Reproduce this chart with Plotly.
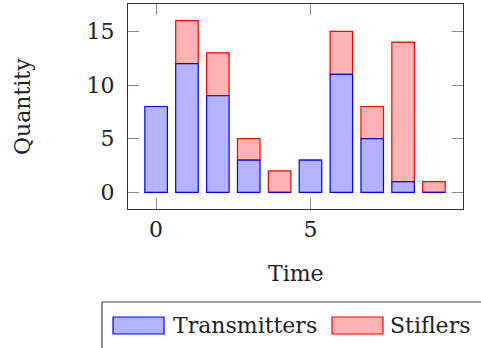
import plotly.graph_objects as go

time = [0, 1, 2, 3, 4, 5, 6, 7, 8, 9]
transmitters = [8, 12, 9, 3, 0, 3, 11, 5, 1, 0]
stiflers = [0, 4, 4, 2, 2, 0, 4, 3, 13, 1]
x_ticks = [0, 5]
y_ticks = [0, 5, 10, 15]

W, H = 481, 348
L, R, T, B = 128, 463, 4, 209


def px(x):
    return (x - L) / (R - L)


def py(y):
    return (B - y) / (B - T)


FONT = "DejaVu Serif"
fig = go.Figure()
fig.add_trace(go.Bar(
    x=time, y=stiflers, base=transmitters, width=0.73, name="Stiflers",
    marker=dict(color="#ffb3b3", line=dict(color="#ff0000", width=1.2)),
    showlegend=False,
))
fig.add_trace(go.Bar(
    x=time, y=transmitters, width=0.73, name="Transmitters",
    marker=dict(color="#b3b3ff", line=dict(color="#0000ff", width=1.2)),
    showlegend=False,
))

axis_common = dict(
    showgrid=False, zeroline=False, showline=True, linecolor="#333333",
    linewidth=1.2, mirror="ticks", ticks="inside", ticklen=11,
    tickcolor="#888888", tickwidth=1.2,
    tickfont=dict(family=FONT, size=22, color="#222222"),
)
fig.update_xaxes(range=[-0.91, 9.94], tickvals=x_ticks, ticklabelstandoff=0,
                 **axis_common)
fig.update_yaxes(range=[-1.55, 17.55], tickvals=y_ticks, ticklabelstandoff=8,
                 **axis_common)

shapes = [
    dict(type="rect", xref="paper", yref="paper", x0=px(102), x1=px(495),
         y0=py(302), y1=py(360), line=dict(color="#444444", width=1.2),
         fillcolor="rgba(0,0,0,0)"),
    dict(type="rect", xref="paper", yref="paper", x0=px(113), x1=px(164),
         y0=py(317), y1=py(334), line=dict(color="#0000ff", width=1.2),
         fillcolor="#b3b3ff"),
    dict(type="rect", xref="paper", yref="paper", x0=px(332), x1=px(383),
         y0=py(317), y1=py(334), line=dict(color="#ff0000", width=1.2),
         fillcolor="#ffb3b3"),
]
annotations = [
    dict(text="Time", x=px(296), y=py(273), xref="paper", yref="paper",
         showarrow=False, xanchor="center", yanchor="middle",
         font=dict(family=FONT, size=22, color="#222222")),
    dict(text="Quantity", x=px(22), y=py(107), xref="paper", yref="paper",
         showarrow=False, xanchor="center", yanchor="middle", textangle=-90,
         font=dict(family=FONT, size=22, color="#222222")),
    dict(text="Transmitters", x=px(171), y=py(325), xref="paper", yref="paper",
         showarrow=False, xanchor="left", yanchor="middle",
         font=dict(family=FONT, size=22, color="#222222")),
    dict(text="Stiflers", x=px(388), y=py(325), xref="paper", yref="paper",
         showarrow=False, xanchor="left", yanchor="middle",
         font=dict(family=FONT, size=22, color="#222222")),
]

fig.update_layout(
    width=W, height=H, barmode="overlay",
    margin=dict(l=L, r=W - R, t=T, b=H - B),
    plot_bgcolor="white", paper_bgcolor="white",
    shapes=shapes, annotations=annotations, showlegend=False,
)
fig.write_html("out.html")
